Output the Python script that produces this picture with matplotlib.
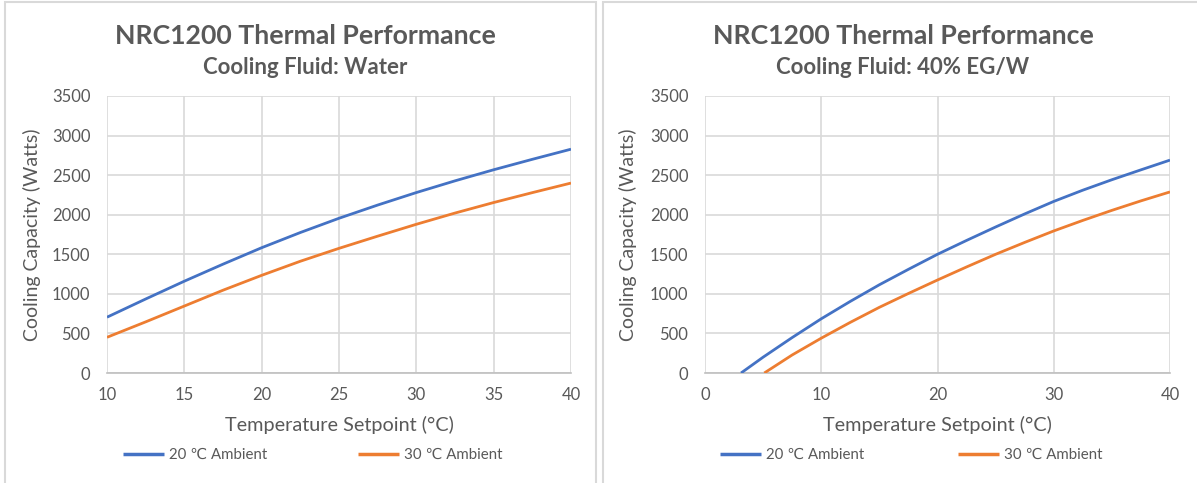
import matplotlib
matplotlib.use("Agg")
import matplotlib.pyplot as plt
from matplotlib.patches import Rectangle

plt.rcParams['font.family'] = ['Lato', 'DejaVu Sans']

W, H = 1197, 483

# ---- data ----
water_x = [10, 12.5, 15, 17.5, 20, 22.5, 25, 27.5, 30, 32.5, 35, 37.5, 40]
water_20 = [705, 935, 1160, 1375, 1583, 1775, 1955, 2122, 2280, 2428, 2568, 2700, 2828]
water_30 = [451, 646, 846, 1046, 1234, 1412, 1575, 1729, 1879, 2021, 2154, 2279, 2400]

eg_x20 = [3.1, 5, 7.5, 10, 12.5, 15, 17.5, 20, 22.5, 25, 27.5, 30, 32.5, 35, 37.5, 40]
eg_20 = [0, 200, 448, 685, 905, 1115, 1310, 1500, 1675, 1845, 2010, 2168, 2310, 2442, 2567, 2690]
eg_x30 = [5.1, 7.5, 10, 12.5, 15, 17.5, 20, 22.5, 25, 27.5, 30, 32.5, 35, 37.5, 40]
eg_30 = [0, 228, 440, 640, 830, 1005, 1175, 1340, 1500, 1650, 1795, 1928, 2055, 2175, 2288]

titles = ["NRC1200 Thermal Performance", "NRC1200 Thermal Performance"]
subtitles = ["Cooling Fluid: Water", "Cooling Fluid: 40% EG/W"]
series_names = ["20 \u2103 Ambient", "30 \u2103 Ambient"]
xlabel = "Temperature Setpoint (\u00b0C)"
ylabel = "Cooling Capacity (Watts)"
yticks = [0, 500, 1000, 1500, 2000, 2500, 3000, 3500]

BLUE = "#4472C4"
ORANGE = "#ED7D31"
TXT = "#595959"
GRID = "#D9D9D9"

fig = plt.figure(figsize=(W / 100, H / 100), dpi=100)

def fx(px):
    return px / W

def fy(py):
    return 1 - py / H

# panel borders
fig.patches.append(Rectangle((fx(5), fy(490)), fx(596) - fx(5), fy(2) - fy(490),
                             transform=fig.transFigure, fill=False, edgecolor=GRID, lw=1.5))
fig.patches.append(Rectangle((fx(603), fy(490)), fx(1200) - fx(603), fy(2) - fy(490),
                             transform=fig.transFigure, fill=False, edgecolor=GRID, lw=1.5))

panels = [
    dict(ax=(107, 571), xlim=(10, 40), xticks=[10, 15, 20, 25, 30, 35, 40],
         data=[(water_x, water_20), (water_x, water_30)], cx=305, ylx=32,
         leg=[123, 358]),
    dict(ax=(705, 1170), xlim=(0, 40), xticks=[0, 10, 20, 30, 40],
         data=[(eg_x20, eg_20), (eg_x30, eg_30)], cx=903, ylx=628,
         leg=[720, 958]),
]

top, bot = 96, 373
for i, p in enumerate(panels):
    x0, x1 = p["ax"]
    ax = fig.add_axes([fx(x0), fy(bot), fx(x1) - fx(x0), fy(top) - fy(bot)])
    lines = []
    for (xs, ys), c in zip(p["data"], [BLUE, ORANGE]):
        ln, = ax.plot(xs, ys, color=c, lw=2.0, solid_capstyle='butt',
                      solid_joinstyle='round', zorder=3)
        lines.append(ln)
    ax.set_xlim(*p["xlim"])
    ax.set_ylim(0, 3500)
    ax.set_xticks(p["xticks"])
    ax.set_yticks(yticks)
    ax.grid(True, color=GRID, lw=1.2)
    ax.set_axisbelow(True)
    for s in ["top", "right", "left"]:
        ax.spines[s].set_visible(False)
    ax.spines["bottom"].set_color("#BFBFBF")
    ax.spines["bottom"].set_linewidth(1.2)
    ax.tick_params(length=0, colors=TXT, labelsize=12)
    ax.tick_params(axis='y', pad=12)
    ax.tick_params(axis='x', pad=10)
    for lab in ax.get_xticklabels() + ax.get_yticklabels():
        lab.set_color(TXT)

    fig.text(fx(p["cx"]), fy(36), titles[i], ha='center', va='center',
             fontsize=19.2, fontweight='bold', color=TXT)
    fig.text(fx(p["cx"]), fy(68), subtitles[i], ha='center', va='center',
             fontsize=16, fontweight='bold', color=TXT)
    fig.text(fx((x0 + x1) / 2), fy(425), xlabel, ha='center', va='center',
             fontsize=14.3, color=TXT)
    fig.text(fx(p["ylx"]), fy((top + bot) / 2), ylabel, ha='center', va='center',
             rotation=90, fontsize=14, color=TXT)

    for ln, name, lx in zip(lines, series_names, p["leg"]):
        leg = fig.legend([ln], [name], loc='center left',
                         bbox_to_anchor=(fx(lx), fy(455)),
                         frameon=False, borderpad=0, borderaxespad=0,
                         handlelength=2.75, handletextpad=0.3, fontsize=10.8,
                         labelcolor=TXT)
        leg.get_lines()[0].set_linewidth(2.5)

fig.savefig("out.png", dpi=100)
